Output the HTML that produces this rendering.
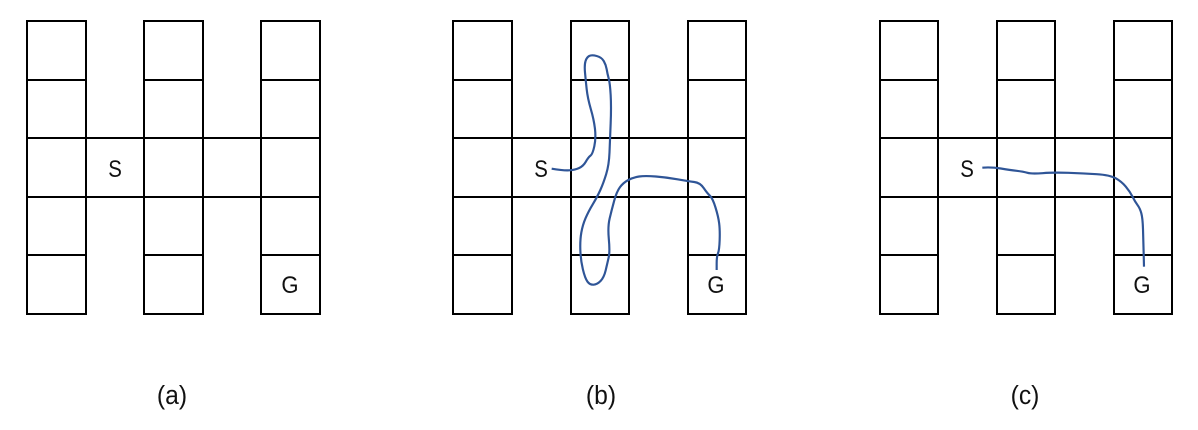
<!DOCTYPE html>
<html lang="en">
<head>
<meta charset="utf-8">
<title>Grid maze paths</title>
<style>
html,body{margin:0;padding:0;background:#fff;width:1198px;height:430px;overflow:hidden}
svg{display:block}
.grid{fill:none;stroke:#000;stroke-width:2}
.route{fill:none;stroke:#2f5597;stroke-width:6.5;stroke-linejoin:round;stroke-linecap:butt}
text{font-family:"Liberation Sans",sans-serif;fill:#111}
.s,.g,.cap{text-anchor:middle}
.s,.g{font-size:24px}
.cap{font-size:26px}
</style>
</head>
<body>
<svg width="1198" height="430" viewBox="0 0 1198 430" xmlns="http://www.w3.org/2000/svg">

<g>
<path class="grid" d="M27 21H86V314H27ZM27 80H86M27 138H86M27 197H86M27 255H86M144 21H203V314H144ZM144 80H203M144 138H203M144 197H203M144 255H203M261 21H320V314H261ZM261 80H320M261 138H320M261 197H320M261 255H320M86 138H144M86 197H144M203 138H261M203 197H261"/>
<text class="s" transform="translate(115 177) scale(.85 1)">S</text>
<text class="g" transform="translate(290 293) scale(.92 1)">G</text>
<text class="cap" transform="translate(172 404) scale(.95 1)">(a)</text>
</g>

<g>
<path class="grid" d="M453 21H512V314H453ZM453 80H512M453 138H512M453 197H512M453 255H512M571 21H629V314H571ZM571 80H629M571 138H629M571 197H629M571 255H629M688 21H746V314H688ZM688 80H746M688 138H746M688 197H746M688 255H746M512 138H571M512 197H571M629 138H688M629 197H688"/>
<text class="s" transform="translate(541 177) scale(.85 1)">S</text>
<text class="g" transform="translate(716 293) scale(.92 1)">G</text>
<text class="cap" transform="translate(601 404) scale(.95 1)">(b)</text>
<g transform="translate(520 40) scale(0.33333)">
<path id="route-b" class="route"/>
</g>
</g>

<g>
<path class="grid" d="M880 21H938V314H880ZM880 80H938M880 138H938M880 197H938M880 255H938M997 21H1055V314H997ZM997 80H1055M997 138H1055M997 197H1055M997 255H1055M1114 21H1172V314H1114ZM1114 80H1172M1114 138H1172M1114 197H1172M1114 255H1172M938 138H997M938 197H997M1055 138H1114M1055 197H1114"/>
<text class="s" transform="translate(967 177) scale(.85 1)">S</text>
<text class="g" transform="translate(1142 293) scale(.92 1)">G</text>
<text class="cap" transform="translate(1025 404) scale(.95 1)">(c)</text>
<g transform="translate(950 140) scale(0.33333)">
<path id="route-c" class="route"/>
</g>
</g>
</svg>
<script>
var routeBX = [95,130,165,190,205,218,228,222,203,197,193,200,215,245,258,262,270,274,270,267,250,232,205,188,180,182,195,210,232,252,262,270,263,275,290,310,340,375,440,505,540,562,578,595,600,598,590,590];
var routeBY = [386,392,390,378,352,342,295,240,175,120,75,52,44,52,75,100,130,200,300,375,430,470,515,555,600,660,715,735,733,712,670,635,560,510,455,428,412,407,412,424,428,460,475,530,570,630,650,690];
var routeCX = [97,125,180,220,245,310,400,480,515,540,555,570,578,580,582];
var routeCY = [83,81,90,95,102,97,100,105,125,155,185,205,235,300,380];
function smooth(xs, ys) {
  var d = 'M' + xs[0] + ' ' + ys[0];
  for (var i = 1; i < xs.length - 1; i++) {
    d += 'Q' + xs[i] + ' ' + ys[i] + ' ' + (xs[i] + xs[i + 1]) / 2 + ' ' + (ys[i] + ys[i + 1]) / 2;
  }
  return d + 'L' + xs[xs.length - 1] + ' ' + ys[ys.length - 1];
}
document.getElementById('route-b').setAttribute('d', smooth(routeBX, routeBY));
document.getElementById('route-c').setAttribute('d', smooth(routeCX, routeCY));
</script>
</body>
</html>
